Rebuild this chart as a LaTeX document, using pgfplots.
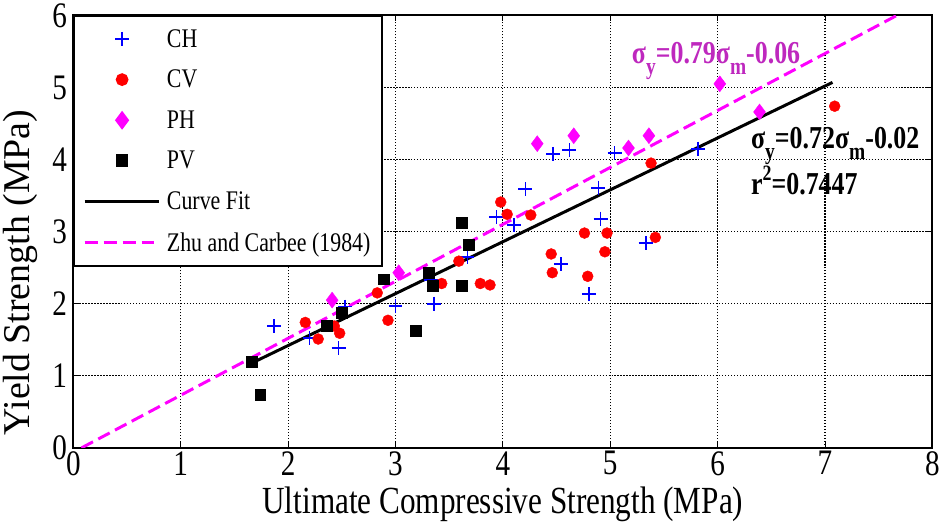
\documentclass[border=0pt]{standalone}
\usepackage{fontspec}
\setmainfont{Liberation Serif}[FakeStretch=0.813]
\newfontfamily\ylabfont{Liberation Serif}
\usepackage{pgfplots}
\pgfplotsset{compat=1.18}
\definecolor{annmag}{RGB}{190,40,190}
\definecolor{pmag}{RGB}{255,0,255}
\definecolor{pblue}{RGB}{0,0,255}
\definecolor{pred}{RGB}{255,0,0}
\newcommand{\sub}[1]{\raisebox{-0.34em}{\fontsize{24}{24}\selectfont #1}}
\newcommand{\sups}[1]{\raisebox{0.42em}{\fontsize{22}{22}\selectfont #1}}
\begin{document}
\begin{tikzpicture}
\begin{axis}[
  scale only axis, width=862pt, height=434pt,
  xmin=0, xmax=8, ymin=0, ymax=6,
  xtick={0,1,...,8}, ytick={0,1,...,6},
  grid=major,
  major grid style={black, line width=1.1pt, dash pattern=on 1.3pt off 1.7pt},
  axis line style={black, line width=2pt},
  tick style={black, line width=0.8pt},
  major tick length=6pt,
  tick align=inside,
  /pgf/number format/assume math mode=true,
  ticklabel style={font=\fontsize{36}{38}\selectfont},
  yticklabel style={xshift=-3pt},
  xlabel={Ultimate Compressive Strength (MPa)},
  ylabel={\ylabfont\fontsize{38}{40}\selectfont Yield Strength (MPa)},
  xlabel style={font=\fontsize{38.5}{40}\selectfont, at={(rel axis cs:0.5,-0.131)}, anchor=center},
  ylabel style={at={(rel axis cs:-0.0615,0.405)}, anchor=center, rotate=0},
  legend image code/.code={\draw[mark repeat=2,mark phase=2] plot coordinates {(0pt,0pt) (37.5pt,0pt) (75pt,0pt)};},
  legend style={at={(0,1)}, anchor=north west, draw=black, line width=1.8pt, fill=white,
    inner xsep=9pt, inner ysep=10pt, row sep=15.5pt, column sep=3pt,
    nodes={inner sep=3pt},
    font=\fontsize{27}{29}\selectfont},
  legend cell align=left,
]
\addplot[only marks, mark=+, draw=pblue, mark options={draw=pblue, solid}, mark size=7pt, line width=1.8pt] coordinates {
(1.87,1.69) (2.20,1.52) (2.47,1.38) (2.53,1.96) (3.00,1.97) (3.36,2.00) (3.33,2.33)
(3.67,2.65) (3.94,3.20) (4.10,3.09) (4.21,3.59) (4.47,4.08) (4.62,4.13) (5.04,4.09)
(4.89,3.61) (4.91,3.18) (4.54,2.55) (4.80,2.13) (5.33,2.84) (5.82,4.15)};
\addlegendentry{CH}
\addplot[only marks, mark=*, color=pred, mark size=5.5pt] coordinates {
(2.16,1.74) (2.28,1.51) (2.43,1.69) (2.48,1.59) (2.83,2.15) (2.93,1.77) (3.43,2.28)
(3.59,2.59) (3.79,2.28) (3.88,2.26) (3.98,3.41) (4.04,3.24) (4.26,3.23) (4.45,2.69)
(4.46,2.43) (4.76,2.98) (4.97,2.98) (4.95,2.72) (4.79,2.38) (5.38,3.95) (5.42,2.92)
(7.09,4.74)};
\addlegendentry{CV}
\addplot[only marks, mark=diamond*, color=pmag, mark size=8pt] coordinates {
(2.41,2.05) (3.03,2.43) (4.32,4.22) (4.66,4.33) (5.17,4.16) (5.36,4.33) (6.02,5.05)
(6.39,4.66)};
\addlegendentry{PH}
\addplot[only marks, mark=square*, color=black, mark size=5.5pt] coordinates {
(1.66,1.19) (1.74,0.74) (2.36,1.69) (2.50,1.88) (2.89,2.34) (3.19,1.62) (3.31,2.43)
(3.35,2.25) (3.62,2.25) (3.62,3.13) (3.68,2.82)};
\addlegendentry{PV}
\addplot[black, line width=3pt, no marks] coordinates {(1.66,1.175) (7.07,5.07)};
\addlegendentry{Curve Fit}
\addplot[pmag, line width=3pt, dash pattern=on 13pt off 6pt, no marks] coordinates {(0.076,0) (7.67,6)};
\addlegendentry{Zhu and Carbee (1984)}
\node[anchor=base west, text=annmag, font=\fontsize{32}{34}\selectfont\bfseries, inner sep=0pt] at (axis cs:5.2,5.33) {σ\sub{y}=0.79σ\sub{m}-0.06};
\node[anchor=base west, text=black, font=\fontsize{32}{34}\selectfont\bfseries, inner sep=0pt] at (axis cs:6.31,4.15) {σ\sub{y}=0.72σ\sub{m}-0.02};
\node[anchor=base west, text=black, font=\fontsize{32}{34}\selectfont\bfseries, inner sep=0pt] at (axis cs:6.31,3.52) {r\sups{2}=0.7447};
\end{axis}
\end{tikzpicture}
\end{document}
